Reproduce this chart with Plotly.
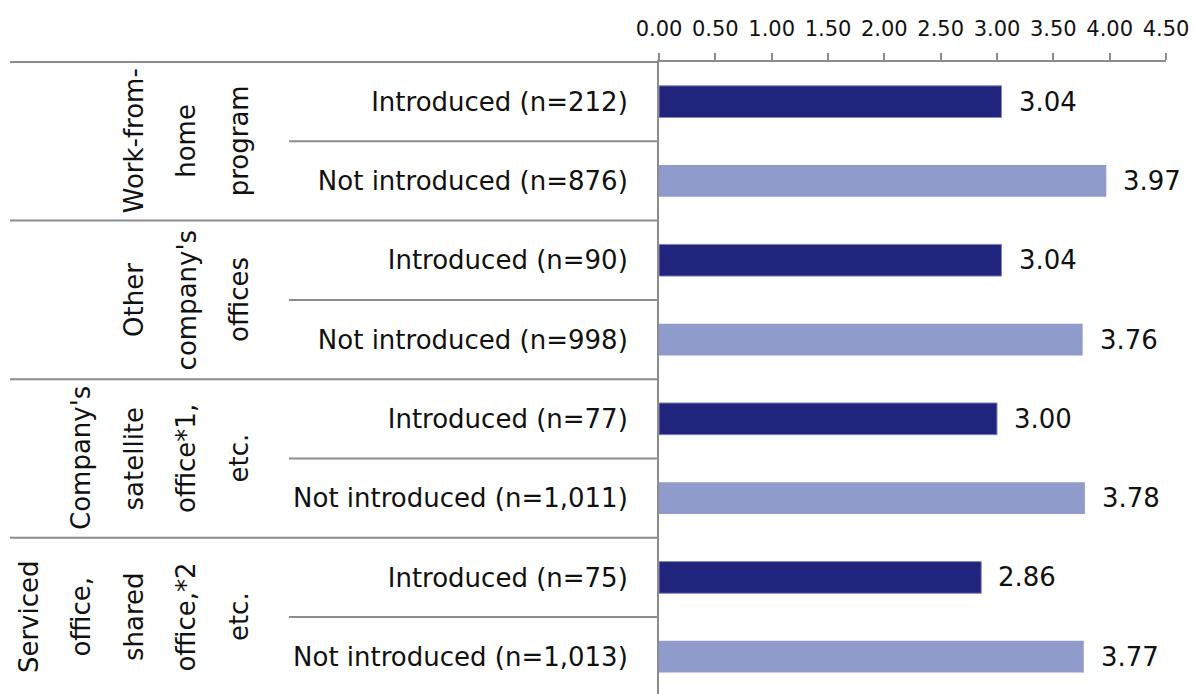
import plotly.graph_objects as go

# Row labels, top to bottom
categories = [
    "Introduced (n=212)", "Not introduced (n=876)",
    "Introduced (n=90)", "Not introduced (n=998)",
    "Introduced (n=77)", "Not introduced (n=1,011)",
    "Introduced (n=75)", "Not introduced (n=1,013)",
]
introduced_labels = categories[0::2]
not_introduced_labels = categories[1::2]
introduced_values = [3.04, 3.04, 3.00, 2.86]
not_introduced_values = [3.97, 3.76, 3.78, 3.77]

# Group headings, each split into its wrapped lines
group_lines = [
    ["Work-from-", "home", "program"],
    ["Other", "company's", "offices"],
    ["Company's", "satellite", "office*1,", "etc."],
    ["Serviced", "office,", "shared", "office,*2", "etc."],
]

x_ticks = [0.0, 0.5, 1.0, 1.5, 2.0, 2.5, 3.0, 3.5, 4.0, 4.5]

DARK = "#20247C"
LIGHT = "#8F9BCB"
GRID = "#8C8C8C"
FONT = "DejaVu Sans"
TXT = "#111111"

W, H = 1193, 694
ML, MR, MT, MB = 659, 27, 62, 0
plot_w = W - ML - MR


def px_to_paper(px):
    return (px - ML) / plot_w


fig = go.Figure()
fig.add_trace(go.Bar(
    y=introduced_labels, x=introduced_values, orientation="h",
    marker=dict(color=DARK, line=dict(color="#7F88C0", width=1)),
    width=0.4, showlegend=False, hoverinfo="x+y",
))
fig.add_trace(go.Bar(
    y=not_introduced_labels, x=not_introduced_values, orientation="h",
    marker=dict(color=LIGHT, line=dict(width=0)),
    width=0.4, showlegend=False, hoverinfo="x+y",
))

annotations = []
# value labels to the right of each bar
for labs, vals in ((introduced_labels, introduced_values),
                   (not_introduced_labels, not_introduced_values)):
    for lab, v in zip(labs, vals):
        annotations.append(dict(
            x=v, y=lab, xref="x", yref="y", text=f"{v:.2f}",
            showarrow=False, xanchor="left", yanchor="middle", xshift=15,
            font=dict(family=FONT, size=26, color=TXT),
        ))

# rotated group headings; last line of every group sits in the same column
line_step = 52.5
last_col_px = 239
for g, lines in enumerate(group_lines):
    yc = 2 * g + 0.5
    n = len(lines)
    for i, t in enumerate(lines):
        xpx = last_col_px - (n - 1 - i) * line_step
        annotations.append(dict(
            x=px_to_paper(xpx), y=yc, xref="paper", yref="y", text=t,
            showarrow=False, textangle=-90, xanchor="center", yanchor="middle",
            font=dict(family=FONT, size=26, color=TXT),
        ))

shapes = []
left_px = 10
sub_left_px = 289
# table border along the top, continuing the value axis line
shapes.append(dict(type="line", xref="paper", yref="paper",
                   x0=px_to_paper(left_px), x1=0, y0=1, y1=1,
                   line=dict(color=GRID, width=2)))
# group separators (full width) and row separators (label column only)
for k in range(len(categories) - 1):
    yb = k + 0.5
    x0 = left_px if k % 2 == 1 else sub_left_px
    shapes.append(dict(type="line", xref="paper", yref="y",
                       x0=px_to_paper(x0), x1=0, y0=yb, y1=yb,
                       line=dict(color=GRID, width=2)))

fig.update_layout(
    width=W, height=H,
    margin=dict(l=ML, r=MR, t=MT, b=MB),
    paper_bgcolor="white", plot_bgcolor="white",
    barmode="overlay",
    font=dict(family=FONT, color=TXT),
    annotations=annotations,
    shapes=shapes,
    xaxis=dict(
        side="top", range=[0, 4.5], tickvals=x_ticks, tickformat=".2f",
        ticks="outside", ticklen=7, tickcolor=GRID, tickwidth=1.5,
        showline=True, linecolor=GRID, linewidth=2,
        showgrid=False, zeroline=False,
        tickfont=dict(family=FONT, size=21, color=TXT),
        ticklabelstandoff=9, automargin=False,
    ),
    yaxis=dict(
        categoryorder="array", categoryarray=categories,
        range=[7.47, -0.5],
        showline=True, linecolor=GRID, linewidth=2,
        ticks="", showgrid=False, zeroline=False,
        tickfont=dict(family=FONT, size=26, color=TXT),
        ticklabelstandoff=24, automargin=False,
    ),
)

fig.write_html("out.html")
